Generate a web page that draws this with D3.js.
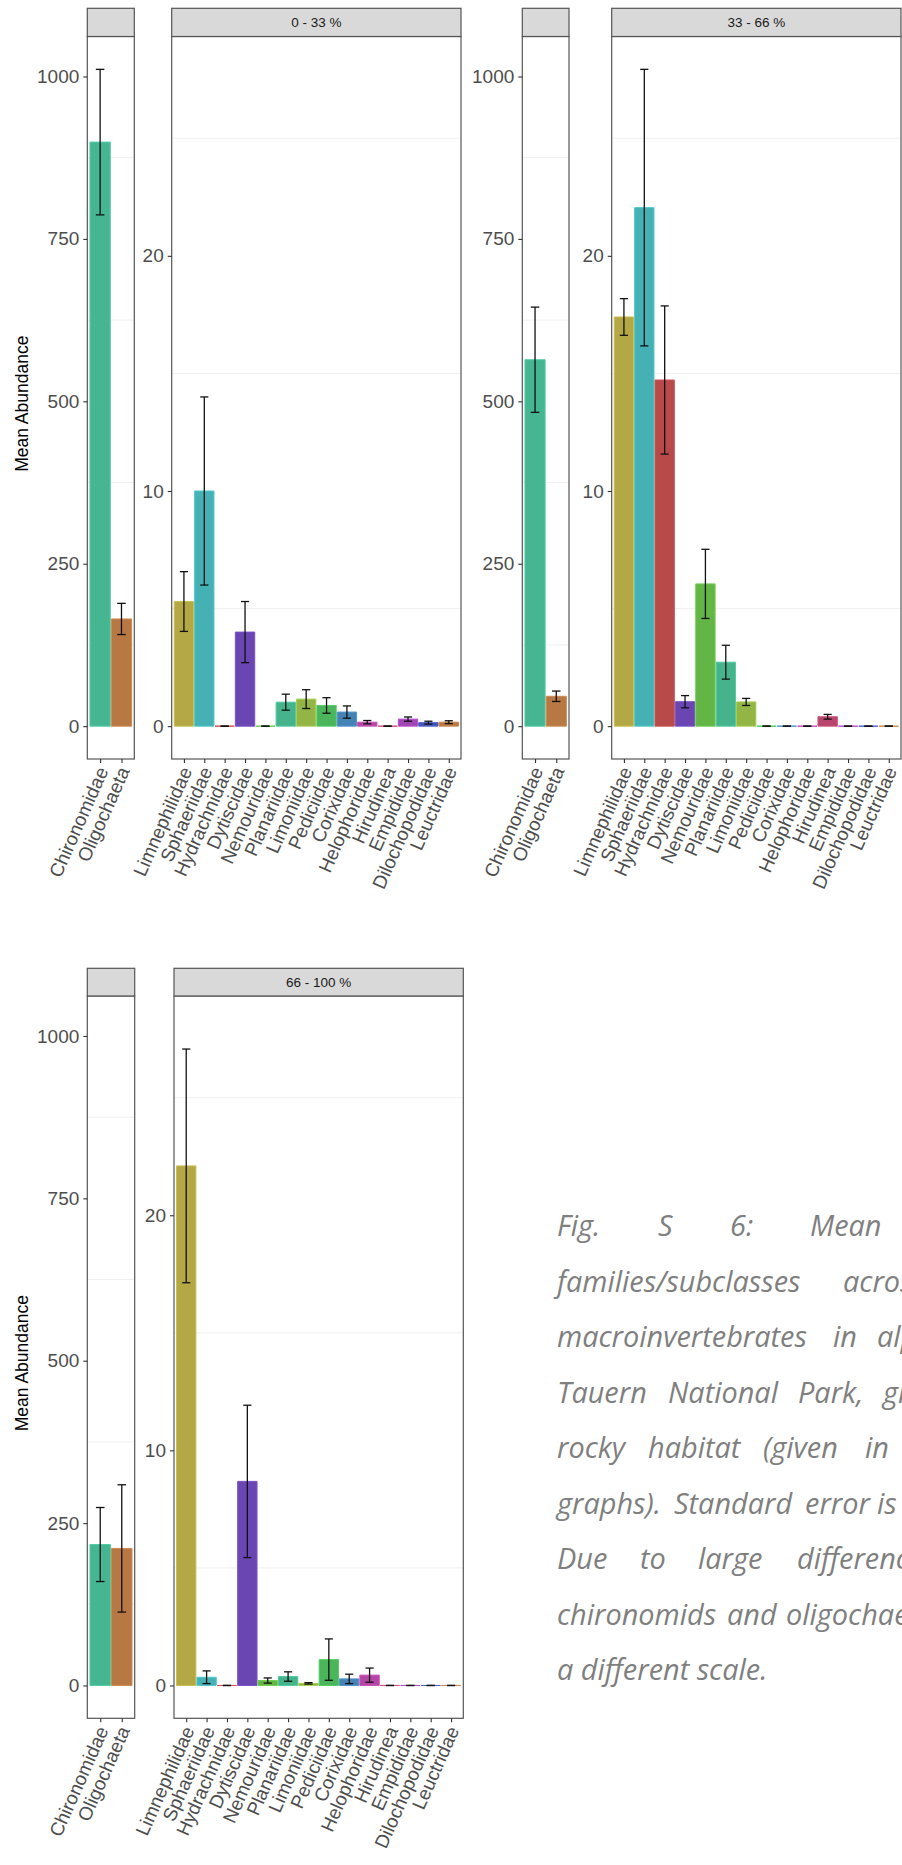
<!DOCTYPE html>
<html lang="en">
<head>
<meta charset="utf-8">
<title>Mean abundance by rocky habitat</title>
<script src="https://cdn.jsdelivr.net/npm/d3@7"></script>
<style>
  body { margin: 0; background: #fff; }
  svg { display: block; font-family: "Liberation Sans", Arial, sans-serif; }
  .caption { font-family: "Open Sans", sans-serif; font-style: italic; fill: #7f7f7f; }
</style>
</head>
<body>
<div id="chart"></div>
<script>
// ---- data ----
var habitats = ["0 - 33 %", "33 - 66 %", "66 - 100 %"];

var bigTaxa = ["Chironomidae", "Oligochaeta"];
var smallTaxa = ["Limnephilidae", "Sphaeriidae", "Hydrachnidae", "Dytiscidae", "Nemouridae",
                 "Planariidae", "Limoniidae", "Pediciidae", "Corixidae", "Helophoridae",
                 "Hirudinea", "Empididae", "Dilochopodidae", "Leuctridae"];

var bigColors = ["#46b592", "#b87844"];
var smallColors = ["#b3a845", "#45b1b5", "#b84b4a", "#6a46b3", "#63b546",
                   "#46b38d", "#93b546", "#4ab55a", "#4683b5", "#b546a5",
                   "#b8466c", "#a046b5", "#4656b5", "#b87844"];

// means and standard errors, one array per habitat class
var bigMean0 = [899, 165];
var bigSe0   = [112, 24];
var bigMean1 = [564, 46];
var bigSe1   = [81, 8];
var bigMean2 = [217, 211];
var bigSe2   = [57, 98];

var smallMean0 = [5.3, 10.0, 0, 4.0, 0, 1.02, 1.15, 0.88, 0.6, 0.17, 0, 0.3, 0.15, 0.17];
var smallSe0   = [1.27, 4.0, 0, 1.3, 0, 0.34, 0.4, 0.33, 0.26, 0.07, 0, 0.09, 0.06, 0.06];
var smallMean1 = [17.4, 22.05, 14.72, 1.04, 6.05, 2.72, 1.03, 0, 0, 0, 0.4, 0, 0, 0];
var smallSe1   = [0.78, 5.88, 3.15, 0.26, 1.47, 0.72, 0.15, 0, 0, 0, 0.1, 0, 0, 0];
var smallMean2 = [22.1, 0.35, 0, 8.68, 0.21, 0.38, 0.09, 1.1, 0.28, 0.44, 0, 0, 0, 0];
var smallSe2   = [4.97, 0.27, 0, 3.24, 0.11, 0.2, 0.03, 0.88, 0.2, 0.3, 0, 0, 0, 0];

var bigTicks = [0, 250, 500, 750, 1000];
var smallTicks = [0, 10, 20];

var yTitle = "Mean Abundance";

var captionLines = [
  ["Fig.", "S", "6:", "Mean", "abundance"],
  ["families/subclasses", "across"],
  ["macroinvertebrates", "in", "alpine"],
  ["Tauern", "National", "Park,", "grouped"],
  ["rocky", "habitat", "(given", "in", "percent"],
  ["graphs).", "Standard", "error", "is", "shown."],
  ["Due", "to", "large", "differences"],
  ["chironomids", "and", "oligochaeta"],
  ["a different scale."]
];

// ---- layout ----
var w = 902, h = 1865;
var svg = d3.select("#chart").append("svg").attr("width", w).attr("height", h);

var plots = [
  {hab: 0, small: [87.3, 134.3], big: [171.7, 461], stripTop: 8.3, top: 36.5, bottom: 759, yLabel: true,
   bigMean: bigMean0, bigSe: bigSe0, smallMean: smallMean0, smallSe: smallSe0},
  {hab: 1, small: [522.3, 569], big: [611.7, 901], stripTop: 8.3, top: 36.5, bottom: 759, yLabel: false,
   bigMean: bigMean1, bigSe: bigSe1, smallMean: smallMean1, smallSe: smallSe1},
  {hab: 2, small: [87.3, 134.7], big: [174, 463.3], stripTop: 968.3, top: 996, bottom: 1718.3, yLabel: true,
   bigMean: bigMean2, bigSe: bigSe2, smallMean: smallMean2, smallSe: smallSe2}
];

// shared y ranges (ggplot style: 5% expansion around data)
var bigMax = d3.max(plots, function(p){ return d3.max(p.bigMean, function(m, i){ return m + p.bigSe[i]; }); });
var smallMax = d3.max(plots, function(p){ return d3.max(p.smallMean, function(m, i){ return m + p.smallSe[i]; }); });
var bigDomain = [-0.05 * bigMax, 1.05 * bigMax];
var smallDomain = [-0.05 * smallMax, 1.05 * smallMax];

function minorOf(ticks, domain) {
  var s = ticks[1] - ticks[0];
  return ticks.map(function(t){ return t + s / 2; })
              .filter(function(v){ return v > domain[0] && v < domain[1]; });
}

function drawPanel(o) {
  var g = svg.append("g");
  var x = d3.scalePoint().domain(o.taxa).range([o.x0, o.x1]).padding(0.6);
  var step = x.step();
  var y = d3.scaleLinear().domain(o.domain).range([o.bottom, o.top]);
  var rows = o.taxa.map(function(t, i){ return {taxon: t, mean: o.mean[i], se: o.se[i], color: o.colors[i]}; });

  g.append("rect")
    .attr("x", o.x0).attr("y", o.top)
    .attr("width", o.x1 - o.x0).attr("height", o.bottom - o.top)
    .attr("fill", "#fff");

  g.selectAll(".minor")
    .data(minorOf(o.ticks, o.domain))
    .join("line")
    .attr("x1", o.x0).attr("x2", o.x1)
    .attr("y1", d => y(d)).attr("y2", d => y(d))
    .attr("stroke", "#f0f0f0").attr("stroke-width", 1);

  // bars as paths so that zero-height bars still show their outline
  g.selectAll(".bar")
    .data(rows)
    .join("path")
    .attr("d", function(d) {
      var l = x(d.taxon) - step * 0.475, r = x(d.taxon) + step * 0.475;
      return "M" + l + "," + y(d.mean) + "H" + r + "V" + y(0) + "H" + l + "Z";
    })
    .attr("fill", d => d.color)
    .attr("stroke", d => d3.color(d.color).brighter(0.35))
    .attr("stroke-width", 1);

  var eb = g.selectAll(".err").data(rows).join("g").attr("stroke", "#111").attr("stroke-width", 1.3);
  eb.append("line")
    .attr("x1", d => x(d.taxon)).attr("x2", d => x(d.taxon))
    .attr("y1", d => y(d.mean + d.se)).attr("y2", d => y(d.mean - d.se));
  eb.append("line")
    .attr("x1", d => x(d.taxon) - step * 0.2).attr("x2", d => x(d.taxon) + step * 0.2)
    .attr("y1", d => y(d.mean + d.se)).attr("y2", d => y(d.mean + d.se));
  eb.append("line")
    .attr("x1", d => x(d.taxon) - step * 0.2).attr("x2", d => x(d.taxon) + step * 0.2)
    .attr("y1", d => y(d.mean - d.se)).attr("y2", d => y(d.mean - d.se));

  g.append("rect")
    .attr("x", o.x0).attr("y", o.top)
    .attr("width", o.x1 - o.x0).attr("height", o.bottom - o.top)
    .attr("fill", "none").attr("stroke", "#555").attr("stroke-width", 1.2);

  // strip
  g.append("rect")
    .attr("x", o.x0).attr("y", o.stripTop)
    .attr("width", o.x1 - o.x0).attr("height", o.top - o.stripTop)
    .attr("fill", "#d9d9d9").attr("stroke", "#555").attr("stroke-width", 1.2);
  if (o.strip) {
    g.append("text")
      .attr("x", (o.x0 + o.x1) / 2).attr("y", (o.stripTop + o.top) / 2)
      .attr("dy", "0.36em").attr("text-anchor", "middle")
      .attr("font-size", 13.5).attr("fill", "#1a1a1a")
      .text(o.strip);
  }

  // axes
  var ya = g.append("g").attr("transform", "translate(" + o.x0 + ",0)")
    .call(d3.axisLeft(y).tickValues(o.ticks).tickSize(4).tickPadding(4).tickFormat(d3.format("d")));
  ya.select(".domain").remove();
  ya.selectAll("line").attr("stroke", "#333").attr("stroke-width", 1.1);
  ya.selectAll("text").attr("font-size", 19).attr("fill", "#4d4d4d").attr("font-family", null);

  var xa = g.append("g").attr("transform", "translate(0," + o.bottom + ")")
    .call(d3.axisBottom(x).tickSize(4));
  xa.select(".domain").remove();
  xa.selectAll("line").attr("stroke", "#333").attr("stroke-width", 1.1);
  xa.selectAll("text")
    .attr("font-size", 19).attr("fill", "#4d4d4d").attr("font-family", null)
    .attr("text-anchor", "end")
    .attr("x", 0).attr("y", 0).attr("dy", "0.35em")
    .attr("transform", "translate(2,9) rotate(-66)");
}

plots.forEach(function(p) {
  drawPanel({taxa: bigTaxa, colors: bigColors, mean: p.bigMean, se: p.bigSe,
             x0: p.small[0], x1: p.small[1], top: p.top, bottom: p.bottom, stripTop: p.stripTop,
             domain: bigDomain, ticks: bigTicks, strip: ""});
  drawPanel({taxa: smallTaxa, colors: smallColors, mean: p.smallMean, se: p.smallSe,
             x0: p.big[0], x1: p.big[1], top: p.top, bottom: p.bottom, stripTop: p.stripTop,
             domain: smallDomain, ticks: smallTicks, strip: habitats[p.hab]});
  if (p.yLabel) {
    svg.append("text")
      .attr("transform", "translate(22," + ((p.top + p.bottom) / 2 + 6) + ") rotate(-90)")
      .attr("dy", "0.35em")
      .attr("text-anchor", "middle")
      .attr("font-size", 17.5).attr("fill", "#000")
      .text(yTitle);
  }
});

// ---- caption (justified paragraph, clipped at the right edge) ----
var capY = 1236, capLead = 55.5;
// word start positions read from the page
var wordX = [
  [557, 658, 730, 810, 960],
  [557, 843],
  [557, 833, 877],
  [557, 668, 798, 883],
  [557, 648, 763, 865, 905],
  [557, 674, 805, 877, 905],
  [557, 640, 698, 797],
  [557, 727, 786],
  [557]
];
var cap = svg.append("g").attr("class", "caption");
var probe = cap.append("text").attr("font-size", 28).text("macroinvertebrates");
var fs = 28 * 250 / probe.node().getComputedTextLength();
probe.remove();
captionLines.forEach(function(line, i) {
  line.forEach(function(word, j) {
    cap.append("text")
      .attr("x", wordX[i][j]).attr("y", capY + i * capLead)
      .attr("font-size", fs)
      .text(word);
  });
});
</script>
</body>
</html>
